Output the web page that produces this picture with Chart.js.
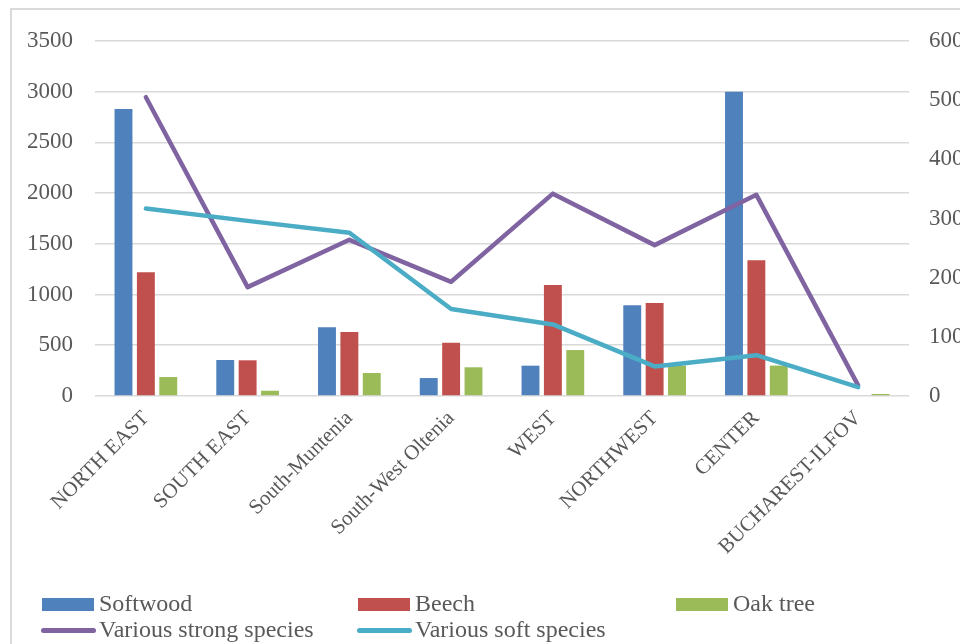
<!DOCTYPE html>
<html>
<head>
<meta charset="utf-8">
<script src="https://cdn.jsdelivr.net/npm/chart.js@4.4.1/dist/chart.umd.min.js"></script>
<style>
  html, body { margin: 0; padding: 0; background: #fff; overflow: hidden; width: 960px; height: 644px; }
  #frame { position: absolute; left: 10px; top: 8px; width: 1000px; height: 700px; border: 2px solid #d9d9d9; box-sizing: border-box; }
  #wrap { position: absolute; left: 0; top: 0; width: 980px; height: 590px; }
  #legend { position: absolute; left: 0; top: 0; width: 960px; height: 644px; pointer-events: none;
            font-family: "Liberation Serif", "Times New Roman", serif; font-size: 24px; color: #595959; }
  .item { position: absolute; white-space: nowrap; line-height: 26px; }
  .sw { position: absolute; }
</style>
</head>
<body>
<div id="frame"></div>
<div id="wrap"><canvas id="c" width="980" height="590"></canvas></div>
<div id="legend"></div>
<script>
// Regions and wood volumes
const categories = ['NORTH EAST', 'SOUTH EAST', 'South-Muntenia', 'South-West Oltenia', 'WEST', 'NORTHWEST', 'CENTER', 'BUCHAREST-ILFOV'];
const softwood = [2830, 355, 677, 177, 299, 894, 3000, 0];
const beech = [1220, 352, 631, 526, 1094, 917, 1338, 0];
const oakTree = [187, 52, 227, 283, 453, 300, 300, 20];
const strongSpecies = [505, 184, 264, 193, 342, 255, 340, 18];
const softSpecies = [317, 296, 276, 147, 121, 50, 69, 15];

const TEXT = '#595959';
const GRID = '#d9d9d9';
const FONT = '"Liberation Serif", "Times New Roman", serif';
const CANVAS_W = 980, CANVAS_H = 590, PLOT_BOTTOM = 396;

const series = [
  { label: 'Softwood', data: softwood, color: '#4F81BD', kind: 'bar' },
  { label: 'Beech', data: beech, color: '#C0504D', kind: 'bar' },
  { label: 'Oak tree', data: oakTree, color: '#9BBB59', kind: 'bar' },
  { label: 'Various strong species', data: strongSpecies, color: '#8064A2', kind: 'line' },
  { label: 'Various soft species', data: softSpecies, color: '#4BACC6', kind: 'line' }
];

const datasets = series.map((s, i) => {
  if (s.kind === 'bar') {
    return {
      type: 'bar', label: s.label, data: s.data, yAxisID: 'y',
      backgroundColor: s.color, borderWidth: 0,
      categoryPercentage: 0.66, barPercentage: 0.8, order: 3
    };
  }
  return {
    type: 'line', label: s.label, data: s.data, yAxisID: 'y1',
    borderColor: s.color, backgroundColor: s.color, borderWidth: 4.5,
    pointRadius: 0, tension: 0, borderCapStyle: 'round', borderJoinStyle: 'round',
    order: i === 4 ? 0 : 1
  };
});

const plain = (v) => String(v);

new Chart(document.getElementById('c'), {
  data: { labels: categories, datasets },
  options: {
    responsive: false,
    animation: false,
    events: [],
    layout: { padding: { top: 41, left: 0, right: 0, bottom: 0 } },
    plugins: { legend: { display: false }, tooltip: { enabled: false } },
    scales: {
      x: {
        grid: { display: false, drawTicks: false },
        border: { display: false },
        ticks: {
          color: TEXT, font: { family: FONT, size: 21 },
          maxRotation: 45, minRotation: 45, autoSkip: false, padding: 10
        },
        afterFit: (s) => { s.height = CANVAS_H - PLOT_BOTTOM; }
      },
      y: {
        position: 'left', min: 0, max: 3500,
        grid: { color: GRID, lineWidth: 1.6, drawTicks: false },
        border: { display: false },
        ticks: { stepSize: 500, color: TEXT, font: { family: FONT, size: 23 }, padding: 22, callback: plain },
        afterFit: (s) => { s.width = 95; }
      },
      y1: {
        position: 'right', min: 0, max: 600,
        grid: { display: false, drawTicks: false },
        border: { display: false },
        ticks: { stepSize: 100, color: TEXT, font: { family: FONT, size: 23 }, padding: 20, callback: plain },
        afterFit: (s) => { s.width = CANVAS_W - 909; }
      }
    }
  }
});

// Legend laid out in three columns below the plot
const legendPos = [
  { x: 42, y: 604 }, { x: 358, y: 604 }, { x: 676, y: 604 },
  { x: 42, y: 630 }, { x: 358, y: 630 }
];
const legend = document.getElementById('legend');
series.forEach((s, i) => {
  const p = legendPos[i];
  const sw = document.createElement('div');
  sw.className = 'sw';
  if (s.kind === 'bar') {
    Object.assign(sw.style, { left: p.x + 'px', top: (p.y - 6.5) + 'px', width: '52px', height: '13px', background: s.color });
  } else {
    Object.assign(sw.style, { left: (p.x - 1) + 'px', top: (p.y - 2.5) + 'px', width: '55px', height: '5px', background: s.color, borderRadius: '3px' });
  }
  legend.appendChild(sw);
  const t = document.createElement('div');
  t.className = 'item';
  t.textContent = s.label;
  Object.assign(t.style, { left: (p.x + 57) + 'px', top: (p.y - 14) + 'px' });
  legend.appendChild(t);
});
</script>
</body>
</html>
